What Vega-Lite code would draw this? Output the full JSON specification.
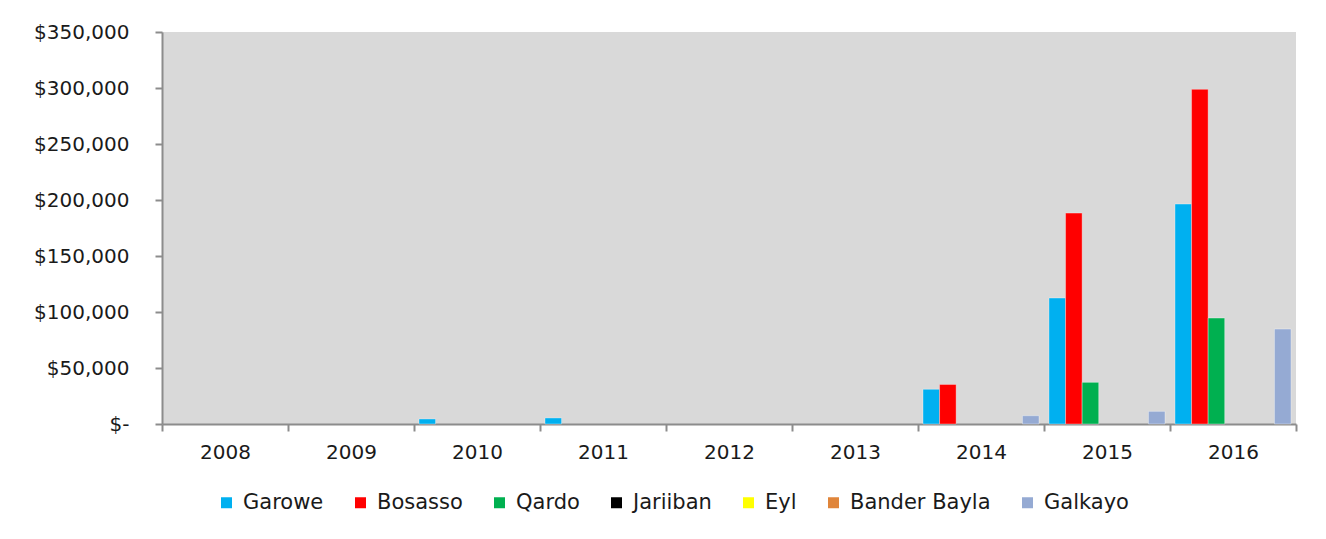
{
  "$schema": "https://vega.github.io/schema/vega-lite/v6.json",
  "width": 1134,
  "height": 392,
  "autosize": {"type": "none"},
  "padding": {"left": 162, "top": 32, "right": 30, "bottom": 115},
  "background": "#ffffff",
  "config": {
    "view": {"fill": "#d9d9d9", "stroke": null},
    "font": "DejaVu Sans"
  },
  "data": {
    "values": [
      {"year": "2010", "city": "Garowe", "amount": 4500},
      {"year": "2011", "city": "Garowe", "amount": 5400},
      {"year": "2014", "city": "Garowe", "amount": 31000},
      {"year": "2014", "city": "Bosasso", "amount": 35300},
      {"year": "2014", "city": "Galkayo", "amount": 7400},
      {"year": "2015", "city": "Garowe", "amount": 112500},
      {"year": "2015", "city": "Bosasso", "amount": 188300},
      {"year": "2015", "city": "Qardo", "amount": 37200},
      {"year": "2015", "city": "Galkayo", "amount": 11300},
      {"year": "2016", "city": "Garowe", "amount": 196400},
      {"year": "2016", "city": "Bosasso", "amount": 298800},
      {"year": "2016", "city": "Qardo", "amount": 94600},
      {"year": "2016", "city": "Galkayo", "amount": 84800}
    ]
  },
  "mark": {"type": "bar", "strokeWidth": 1, "strokeOpacity": 0.35, "stroke": "#ffffff"},
  "encoding": {
    "x": {
      "field": "year",
      "type": "nominal",
      "scale": {"domain": ["2008","2009","2010","2011","2012","2013","2014","2015","2016"], "paddingInner": 0, "paddingOuter": 0},
      "axis": {
        "title": null,
        "labelAngle": 0,
        "tickBand": "extent",
        "domainColor": "#8c8c8c",
        "domainWidth": 2,
        "tickColor": "#8c8c8c",
        "tickWidth": 2,
        "tickSize": 7,
        "labelFontSize": 20,
        "labelColor": "#1a1a1a",
        "labelPadding": 11,
        "grid": false
      }
    },
    "xOffset": {
      "field": "city",
      "type": "nominal",
      "scale": {"domain": ["Garowe","Bosasso","Qardo","Jariiban","Eyl","Bander Bayla","Galkayo"], "paddingInner": 0, "paddingOuter": 0.3}
    },
    "y": {
      "field": "amount",
      "type": "quantitative",
      "scale": {"domain": [0, 350000], "nice": false},
      "axis": {
        "title": null,
        "values": [0, 50000, 100000, 150000, 200000, 250000, 300000, 350000],
        "labelExpr": "datum.value == 0 ? '$-' : '$' + format(datum.value, ',')",
        "grid": false,
        "domainColor": "#8c8c8c",
        "domainWidth": 2,
        "tickColor": "#8c8c8c",
        "tickWidth": 2,
        "tickSize": 7,
        "labelFontSize": 20,
        "labelColor": "#1a1a1a",
        "labelPadding": 26
      }
    },
    "color": {
      "field": "city",
      "type": "nominal",
      "scale": {
        "domain": ["Garowe","Bosasso","Qardo","Jariiban","Eyl","Bander Bayla","Galkayo"],
        "range": ["#00b0f0","#ff0000","#00b050","#000000","#ffff00","#e0853a","#95aad3"]
      },
      "legend": {
        "title": null,
        "orient": "none",
        "legendX": 54,
        "legendY": 460,
        "direction": "horizontal",
        "symbolType": "square",
        "symbolSize": 121,
        "symbolStrokeWidth": 0,
        "labelFontSize": 21,
        "labelColor": "#1a1a1a",
        "labelOffset": 6,
        "columnPadding": 26
      }
    }
  }
}
